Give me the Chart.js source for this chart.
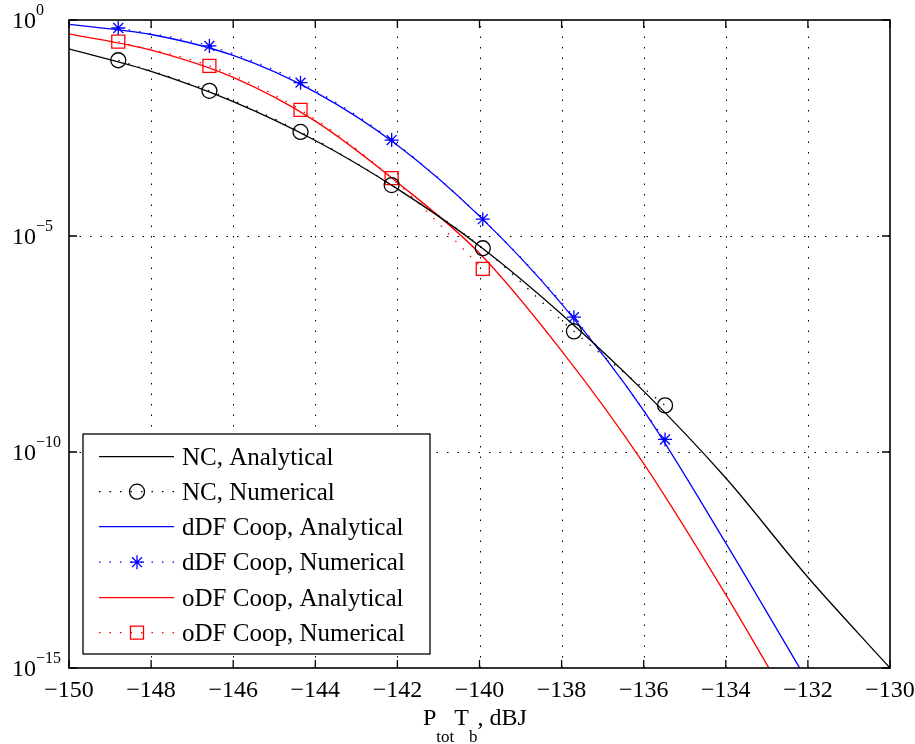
<!DOCTYPE html>
<html>
<head>
<meta charset="utf-8">
<script src="https://cdn.jsdelivr.net/npm/chart.js@4.4.1/dist/chart.umd.min.js"></script>
<style>
  body { margin: 0; background: #fff; }
  #wrap { width: 915px; height: 744px; }
</style>
</head>
<body>
<div id="wrap"><canvas id="berChart" width="915" height="744"></canvas></div>
<script>
// x positions of the simulated (numerical) points, dBJ
const xNumerical = [-148.8, -146.58, -144.36, -142.14, -139.92, -137.7, -135.48];

// numerical BER values
const ncNumerical  = [0.117, 0.0229, 2.57e-3, 1.51e-4, 5.2e-6, 6.2e-8, 1.2e-9];
const ddfNumerical = [0.653, 0.251, 0.0355, 1.66e-3, 2.45e-5, 1.32e-7, 1.95e-10];
const odfNumerical = [0.316, 0.087, 8.3e-3, 2.19e-4, 1.74e-6];

// analytical curves
const ncAnalyticX  = [-150, -148, -146, -144, -142, -140, -138, -136, -134, -132, -130];
const ncAnalytic   = [0.214, 0.0646, 0.0129, 1.62e-3, 1.23e-4, 5.9e-6, 1.55e-7, 2.57e-9, 2.5e-11, 1.26e-13, 1e-15];
const ddfAnalyticX = [-150, -148, -146, -144, -142, -140, -138, -136, -134, -132.2];
const ddfAnalytic  = [0.794, 0.462, 0.151, 0.0214, 1.26e-3, 2.88e-5, 2.69e-7, 9.1e-10, 7.8e-13, 1e-15];
const odfAnalyticX = [-150, -148, -146, -144, -142, -140, -138, -136, -134, -132.95];
const odfAnalytic  = [0.479, 0.2, 0.0468, 4.57e-3, 1.74e-4, 3.98e-6, 2.19e-8, 5.4e-11, 5e-14, 1e-15];

// axis ticks
const xTicks = [-150, -148, -146, -144, -142, -140, -138, -136, -134, -132, -130];
const yTicks = [1, 1e-5, 1e-10, 1e-15];
const yTickExp = ['0', '\u22125', '\u221210', '\u221215'];

const legendLabels = [
  'NC, Analytical', 'NC, Numerical',
  'dDF Coop, Analytical', 'dDF Coop, Numerical',
  'oDF Coop, Analytical', 'oDF Coop, Numerical'
];

const FONT = '"Liberation Serif", "Times New Roman", serif';
const DOTS = [1.5, 9];

function pts(xs, ys) {
  return ys.map((y, i) => ({ x: xs[i], y: y }));
}

function analytic(label, xs, ys, color) {
  return {
    label: label, data: pts(xs, ys), showLine: true,
    borderColor: color, borderWidth: 1.3, pointRadius: 0,
    cubicInterpolationMode: 'monotone', fill: false
  };
}

function numerical(label, ys, color, style, r) {
  return {
    label: label, data: pts(xNumerical, ys), showLine: true,
    borderColor: color, borderWidth: 1.2, borderDash: DOTS,
    cubicInterpolationMode: 'monotone',
    pointStyle: style, pointRadius: r, pointHoverRadius: r,
    pointBorderColor: color, pointBackgroundColor: 'rgba(0,0,0,0)',
    pointBorderWidth: 1.3, fill: false
  };
}

// marker for the legend
function drawMarker(ctx, style, x, y, color) {
  ctx.save();
  ctx.strokeStyle = color;
  ctx.lineWidth = 1.3;
  ctx.setLineDash([]);
  ctx.beginPath();
  if (style === 'circle') {
    ctx.arc(x, y, 7.5, 0, Math.PI * 2);
  } else if (style === 'rect') {
    ctx.rect(x - 6.5, y - 6.5, 13, 13);
  } else if (style === 'star') {
    const r = 7, d = r * Math.SQRT1_2;
    ctx.moveTo(x - r, y); ctx.lineTo(x + r, y);
    ctx.moveTo(x, y - r); ctx.lineTo(x, y + r);
    ctx.moveTo(x - d, y - d); ctx.lineTo(x + d, y + d);
    ctx.moveTo(x - d, y + d); ctx.lineTo(x + d, y - d);
  }
  ctx.stroke();
  ctx.restore();
}

const matlabFrame = {
  id: 'matlabFrame',
  beforeDatasetsDraw(chart) {
    const ctx = chart.ctx, a = chart.chartArea;
    const xs = chart.scales.x, ys = chart.scales.y;
    ctx.save();
    ctx.strokeStyle = '#000';
    ctx.lineWidth = 1;
    ctx.setLineDash(DOTS);
    xTicks.slice(1, -1).forEach(t => {
      const px = Math.round(xs.getPixelForValue(t)) + 0.5;
      ctx.beginPath(); ctx.moveTo(px, a.bottom); ctx.lineTo(px, a.top); ctx.stroke();
    });
    yTicks.slice(1, -1).forEach(t => {
      const py = Math.round(ys.getPixelForValue(t)) + 0.5;
      ctx.beginPath(); ctx.moveTo(a.left, py); ctx.lineTo(a.right, py); ctx.stroke();
    });
    ctx.restore();
  },
  afterDraw(chart) {
    const ctx = chart.ctx, a = chart.chartArea;
    const xs = chart.scales.x, ys = chart.scales.y;
    ctx.save();
    ctx.setLineDash([]);
    ctx.strokeStyle = '#000';
    ctx.fillStyle = '#000';

    // inward ticks
    ctx.lineWidth = 1.3;
    xTicks.forEach(t => {
      const px = xs.getPixelForValue(t);
      ctx.beginPath();
      ctx.moveTo(px, a.bottom); ctx.lineTo(px, a.bottom - 8);
      ctx.moveTo(px, a.top); ctx.lineTo(px, a.top + 8);
      ctx.stroke();
    });
    yTicks.forEach(t => {
      const py = ys.getPixelForValue(t);
      ctx.beginPath();
      ctx.moveTo(a.left, py); ctx.lineTo(a.left + 8, py);
      ctx.moveTo(a.right, py); ctx.lineTo(a.right - 8, py);
      ctx.stroke();
    });

    // frame
    ctx.lineWidth = 1.6;
    ctx.strokeRect(a.left, a.top, a.right - a.left, a.bottom - a.top);

    // x tick labels
    ctx.font = '24px ' + FONT;
    ctx.textAlign = 'center';
    ctx.textBaseline = 'alphabetic';
    xTicks.forEach(t => {
      const px = xs.getPixelForValue(t);
      ctx.fillText('\u2212' + Math.abs(t), px, a.bottom + 29);
    });

    // y tick labels 10^n
    yTicks.forEach((t, i) => {
      const py = ys.getPixelForValue(t);
      ctx.textAlign = 'left';
      ctx.font = '24px ' + FONT;
      ctx.fillText('10', 12, py + 8);
      ctx.font = '16px ' + FONT;
      ctx.fillText(yTickExp[i], 36, py - 5);
    });

    // x axis title P_tot T_b, dBJ
    let cx = 423;
    const base = a.bottom + 57;
    const part = (txt, size, dy) => {
      ctx.font = size + 'px ' + FONT;
      ctx.textAlign = 'left';
      ctx.fillText(txt, cx, base + dy);
      cx += ctx.measureText(txt).width;
    };
    part('P', 24, 0);
    part('tot', 17, 17);
    part('T', 24, 0);
    part('b', 17, 17);
    part(', dBJ', 24, 0);

    // legend box
    const lx = 83, ly = 434, lw = 347, lh = 220;
    ctx.fillStyle = '#fff';
    ctx.fillRect(lx, ly, lw, lh);
    ctx.lineWidth = 1.3;
    ctx.strokeStyle = '#000';
    ctx.strokeRect(lx, ly, lw, lh);

    const rows = [456.7, 491.7, 526.7, 562.2, 597.7, 632.7];
    chart.data.datasets.forEach((ds, i) => {
      const y = rows[i];
      ctx.save();
      ctx.strokeStyle = ds.borderColor;
      ctx.lineWidth = ds.borderWidth;
      ctx.setLineDash(ds.borderDash || []);
      ctx.beginPath();
      ctx.moveTo(99, y); ctx.lineTo(174, y);
      ctx.stroke();
      ctx.restore();
      if (ds.pointRadius > 0) drawMarker(ctx, ds.pointStyle, 137, y, ds.borderColor);
      ctx.fillStyle = '#000';
      ctx.font = '25px ' + FONT;
      ctx.textAlign = 'left';
      ctx.fillText(legendLabels[i], 182, y + 8);
    });
    ctx.restore();
  }
};

const ctx = document.getElementById('berChart').getContext('2d');
const berChart = new Chart(ctx, {
  type: 'scatter',
  data: {
    datasets: [
      analytic(legendLabels[0], ncAnalyticX, ncAnalytic, '#000000'),
      numerical(legendLabels[1], ncNumerical, '#000000', 'circle', 7.5),
      analytic(legendLabels[2], ddfAnalyticX, ddfAnalytic, '#0000ff'),
      numerical(legendLabels[3], ddfNumerical, '#0000ff', 'star', 7),
      analytic(legendLabels[4], odfAnalyticX, odfAnalytic, '#ff0000'),
      numerical(legendLabels[5], odfNumerical, '#ff0000', 'rect', 9.2)
    ]
  },
  options: {
    responsive: false,
    animation: false,
    layout: { padding: { top: 20, right: 25, left: 0, bottom: 0 } },
    plugins: { legend: { display: false }, tooltip: { enabled: false } },
    scales: {
      x: {
        type: 'linear', min: -150, max: -130,
        ticks: { display: false, stepSize: 2 },
        grid: { display: false },
        border: { display: false },
        afterFit: s => { s.height = 76; }
      },
      y: {
        type: 'logarithmic', min: 1e-15, max: 1,
        ticks: { display: false },
        grid: { display: false },
        border: { display: false },
        afterFit: s => { s.width = 69; }
      }
    }
  },
  plugins: [matlabFrame]
});
</script>
</body>
</html>
